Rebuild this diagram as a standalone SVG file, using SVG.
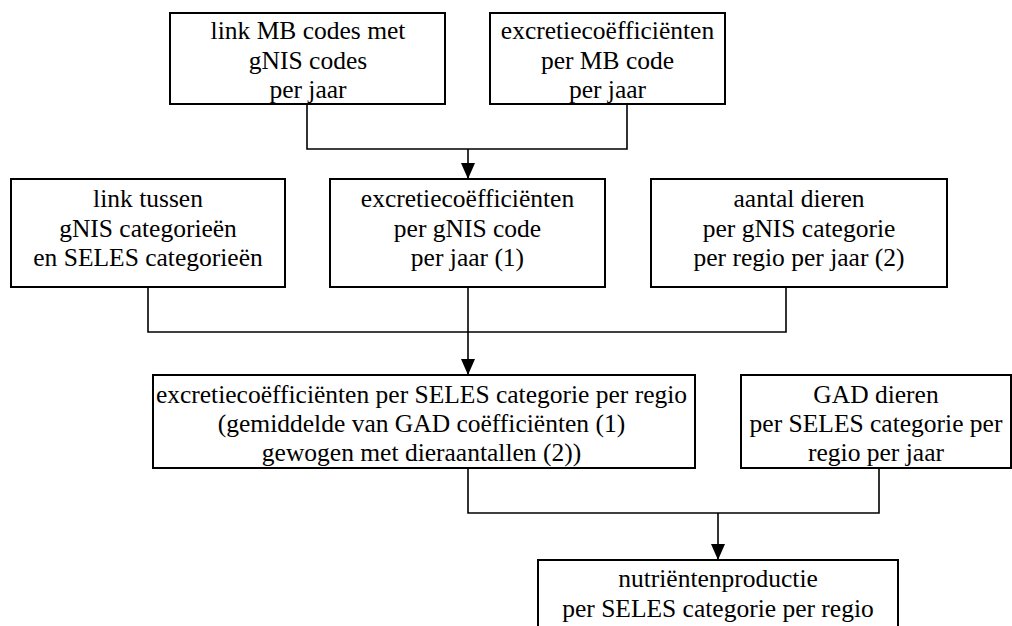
<svg xmlns="http://www.w3.org/2000/svg" width="1012" height="626" viewBox="0 0 1012 626">
  <style>
    .box { fill: #ffffff; stroke: #000000; stroke-width: 2; }
    .lbl { font-family: 'Liberation Serif', 'DejaVu Serif', serif; font-size: 25.5px; fill: #000000; text-anchor: middle; }
    .wire { fill: none; stroke: #000000; stroke-width: 1.6; }
  </style>
  <defs>
    <marker id="arrow" markerUnits="userSpaceOnUse" markerWidth="16" markerHeight="14" refX="16" refY="7" orient="auto">
      <path d="M0,0 L16,7 L0,14 Z" fill="#000000"/>
    </marker>
  </defs>

  <rect width="1012" height="626" fill="#ffffff"/>

  <!-- connectors -->
  <g id="connectors">
    <polyline class="wire" points="307,104 307,149 627,149 627,104"/>
    <line class="wire" x1="468" y1="149" x2="468" y2="179" marker-end="url(#arrow)"/>
    <polyline class="wire" points="148,287 148,332 786,332 786,287"/>
    <line class="wire" x1="468" y1="287" x2="468" y2="375" marker-end="url(#arrow)"/>
    <polyline class="wire" points="468,468 468,513 879,513 879,468"/>
    <line class="wire" x1="718" y1="513" x2="718" y2="560" marker-end="url(#arrow)"/>
  </g>

  <!-- top row -->
  <g id="link-mb-gnis">
    <rect class="box" x="170" y="13" width="275" height="91"/>
    <text class="lbl" x="308" y="39">link MB codes met</text>
    <text class="lbl" x="308" y="68.5">gNIS codes</text>
    <text class="lbl" x="308" y="98">per jaar</text>
  </g>
  <g id="excretie-mb">
    <rect class="box" x="490" y="13" width="235" height="91"/>
    <text class="lbl" x="607.5" y="39">excretiecoëfficiënten</text>
    <text class="lbl" x="607.5" y="68.5">per MB code</text>
    <text class="lbl" x="607.5" y="98">per jaar</text>
  </g>

  <!-- middle row -->
  <g id="link-gnis-seles">
    <rect class="box" x="11" y="179" width="274" height="108"/>
    <text class="lbl" x="148" y="207">link tussen</text>
    <text class="lbl" x="148" y="236.5">gNIS categorieën</text>
    <text class="lbl" x="148" y="265.5">en SELES categorieën</text>
  </g>
  <g id="excretie-gnis">
    <rect class="box" x="330" y="179" width="275" height="108"/>
    <text class="lbl" x="467.5" y="207">excretiecoëfficiënten</text>
    <text class="lbl" x="467.5" y="236.5">per gNIS code</text>
    <text class="lbl" x="467.5" y="265.5">per jaar (1)</text>
  </g>
  <g id="aantal-dieren">
    <rect class="box" x="651" y="179" width="296" height="108"/>
    <text class="lbl" x="799" y="207">aantal dieren</text>
    <text class="lbl" x="799" y="236.5">per gNIS categorie</text>
    <text class="lbl" x="799" y="265.5">per regio per jaar (2)</text>
  </g>

  <!-- lower row -->
  <g id="excretie-seles">
    <rect class="box" x="153" y="375" width="542" height="93"/>
    <text class="lbl" x="421.5" y="403">excretiecoëfficiënten per SELES categorie per regio</text>
    <text class="lbl" x="421.5" y="432">(gemiddelde van GAD coëfficiënten (1)</text>
    <text class="lbl" x="421.5" y="461">gewogen met dieraantallen (2))</text>
  </g>
  <g id="gad-dieren">
    <rect class="box" x="741" y="375" width="270" height="93"/>
    <text class="lbl" x="876" y="403">GAD dieren</text>
    <text class="lbl" x="876" y="432">per SELES categorie per</text>
    <text class="lbl" x="876" y="461">regio per jaar</text>
  </g>

  <!-- result -->
  <g id="nutrientenproductie">
    <rect class="box" x="538" y="560" width="360" height="80"/>
    <text class="lbl" x="718" y="587">nutriëntenproductie</text>
    <text class="lbl" x="718" y="617">per SELES categorie per regio</text>
  </g>
</svg>
